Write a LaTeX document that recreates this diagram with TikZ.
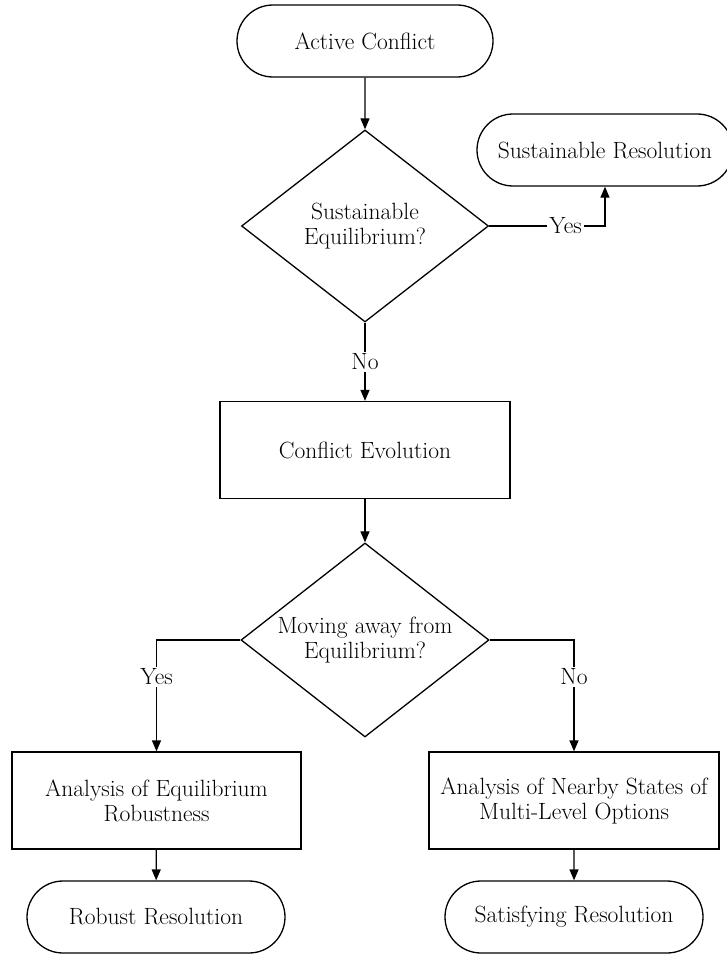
\documentclass[tikz,border=0pt]{standalone}
\usepackage[table]{xcolor}
\usepackage{tikz}
\usetikzlibrary{arrows,arrows.meta,shapes.geometric,shapes.misc}
\usepackage{amssymb}
\usepackage{amsmath}

\begin{document}
\begin{tikzpicture}[x=1pt,y=-1pt,
  line width=1.3pt,
  every node/.style={font=\fontsize{23.5}{25}\selectfont, align=center},
  terminal/.style={draw, rounded rectangle, minimum width=256pt, minimum height=72pt, inner sep=0pt},
  decision/.style={draw, diamond, aspect=1.29, minimum width=247pt, minimum height=192pt, inner sep=0pt},
  process/.style={draw, rectangle, minimum width=290pt, minimum height=97pt, inner sep=0pt},
  answer/.style={fill=white, inner sep=2pt},
  flow/.style={-{Triangle[length=11pt,width=9pt]}}]
\useasboundingbox (0,0) rectangle (727,955);
\node[terminal] (active) at (365,41) {Active Conflict};
\node[decision] (sustq) at (365,226) {Sustainable\\Equilibrium?};
\node[terminal] (sustres) at (605,150) {Sustainable Resolution};
\node[process] (evol) at (365,450) {Conflict Evolution};
\node[decision, minimum width=248pt, minimum height=194pt] (moveq) at (365,640) {Moving away from\\Equilibrium?};
\node[process, minimum width=289pt] (robana) at (156.5,800.5) {Analysis of Equilibrium\\Robustness};
\node[process] (nearana) at (574,800.5) {Analysis of Nearby States of\\Multi-Level Options};
\node[terminal, minimum width=258pt] (robres) at (156,917) {Robust Resolution};
\node[terminal, minimum width=258pt] (satres) at (574,917) {Satisfying Resolution};

\draw[flow] (active) -- (sustq);
\draw[flow] (sustq.east) -| node[answer, pos=0.33] {Yes} (sustres.south);
\draw[flow] (sustq.south) -- node[answer] {No} (evol.north);
\draw[flow] (evol) -- (moveq);
\draw[flow] (moveq.west) -| node[answer, pos=0.665] {Yes} (robana.north);
\draw[flow] (moveq.east) -| node[answer, pos=0.665] {No} (nearana.north);
\draw[flow] (robana) -- (robres);
\draw[flow] (nearana) -- (satres);
\end{tikzpicture}
\end{document}
